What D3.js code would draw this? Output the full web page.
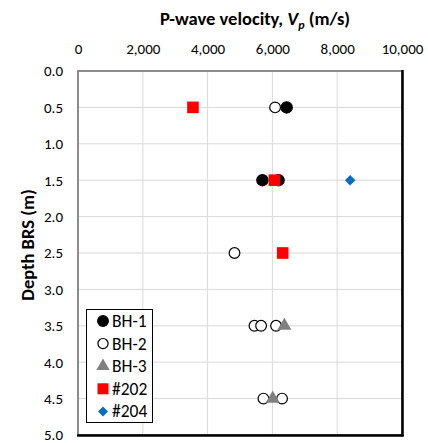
<!DOCTYPE html>
<html><head><meta charset="utf-8">
<script src="https://cdn.jsdelivr.net/npm/d3@7"></script>
<style>
body{margin:0;background:#fff;}
text{font-family:Carlito,Calibri,"Liberation Sans",Arial,sans-serif;}
</style></head>
<body><svg id="c" width="428" height="443"></svg>
<script>
const xTicks=[0,2000,4000,6000,8000,10000];
const yTicks=[0,0.5,1,1.5,2,2.5,3,3.5,4,4.5,5];
const seriesNames=["BH-1","BH-2","BH-3","#202","#204"];
const bh1Vp=[6440,5692,6190], bh1Depth=[0.5,1.5,1.5];
const bh2Vp=[6083,4830,5446,5651,6113,5723,6298], bh2Depth=[0.5,2.5,3.5,3.5,3.5,4.5,4.5];
const bh3Vp=[6369,6010], bh3Depth=[3.5,4.5];
const s202Vp=[3548,6062,6318], s202Depth=[0.5,1.5,2.5];
const s204Vp=[8400], s204Depth=[1.5];

const svg=d3.select("#c");
const L=78,R=402,T=71,B=435;
const x=d3.scaleLinear().domain([0,10000]).range([L,R]);
const y=d3.scaleLinear().domain([0,5]).range([T,B]);
const FF="Carlito,Calibri,'Liberation Sans',Arial,sans-serif";

// grid
svg.append("g").selectAll("line").data(xTicks.slice(1,-1)).join("line")
 .attr("x1",d=>x(d)).attr("x2",d=>x(d)).attr("y1",T).attr("y2",B)
 .attr("stroke","#d9d9d9").attr("stroke-width",1);
svg.append("g").selectAll("line").data(yTicks.slice(1,-1)).join("line")
 .attr("y1",d=>y(d)).attr("y2",d=>y(d)).attr("x1",L).attr("x2",R)
 .attr("stroke","#d9d9d9").attr("stroke-width",1);

// frame
svg.append("rect").attr("x",L).attr("y",T).attr("width",R-L).attr("height",B-T)
 .attr("fill","none").attr("stroke","#8c8c8c").attr("stroke-width",2);
svg.append("line").attr("x1",R+0.5).attr("x2",R+0.5).attr("y1",T-1).attr("y2",B+1.5).attr("stroke","#000").attr("stroke-width",2.5);
svg.append("line").attr("x1",L-1).attr("x2",R+1.5).attr("y1",B+0.5).attr("y2",B+0.5).attr("stroke","#000").attr("stroke-width",2.5);

// axes
const xa=d3.axisTop(x).tickValues(xTicks).tickFormat(d3.format(",")).tickSize(0).tickPadding(17);
const gx=svg.append("g").attr("transform",`translate(0,${T})`).call(xa);
gx.select(".domain").remove();
gx.selectAll("text").attr("font-size",15).attr("fill","#000").style("font-family",FF);
const ya=d3.axisLeft(y).tickValues(yTicks).tickFormat(d3.format(".1f")).tickSize(0).tickPadding(15);
const gy=svg.append("g").attr("transform",`translate(${L},0)`).call(ya);
gy.select(".domain").remove();
gy.selectAll("text").attr("font-size",15).attr("fill","#000").style("font-family",FF);

// titles
const t=svg.append("text").attr("x",255).attr("y",25).attr("text-anchor","middle")
 .attr("font-size",18.5).attr("font-weight","bold");
t.append("tspan").text("P-wave velocity, ");
t.append("tspan").attr("font-style","italic").text("V");
t.append("tspan").attr("font-style","italic").attr("font-size",12).attr("dy",4).text("p");
t.append("tspan").attr("dy",-4).text(" (m/s)");
svg.append("text").attr("transform","translate(34,245) rotate(-90)").attr("text-anchor","middle")
 .attr("font-size",18.5).attr("font-weight","bold").text("Depth BRS (m)");

// markers
const diamond={draw(ctx,size){const r=Math.sqrt(size/2);ctx.moveTo(0,-r);ctx.lineTo(r,0);ctx.lineTo(0,r);ctx.lineTo(-r,0);ctx.closePath();}};
const sym={
 "BH-1":{type:d3.symbolCircle,size:100,fill:"#000",stroke:"#000"},
 "BH-2":{type:d3.symbolCircle,size:90,fill:"#fff",stroke:"#000"},
 "BH-3":{type:d3.symbolTriangle,size:85,fill:"#808080",stroke:"none"},
 "#202":{type:d3.symbolSquare,size:135,fill:"#ff0000",stroke:"none"},
 "#204":{type:diamond,size:55,fill:"#0070c0",stroke:"none"}
};
const series=[
 {name:"BH-1",vp:bh1Vp,d:bh1Depth},
 {name:"BH-2",vp:bh2Vp,d:bh2Depth},
 {name:"BH-3",vp:bh3Vp,d:bh3Depth},
 {name:"#202",vp:s202Vp,d:s202Depth},
 {name:"#204",vp:s204Vp,d:s204Depth}
];
series.forEach(s=>{
 const st=sym[s.name];
 svg.append("g").selectAll("path").data(s.vp.map((v,i)=>[v,s.d[i]])).join("path")
  .attr("d",d3.symbol().type(st.type).size(st.size))
  .attr("transform",d=>`translate(${x(d[0])},${y(d[1])})`)
  .attr("fill",st.fill).attr("stroke",st.stroke).attr("stroke-width",1.2);
});

// legend
const lg=svg.append("g");
lg.append("rect").attr("x",86.5).attr("y",309.5).attr("width",66).attr("height",113)
 .attr("fill","#fff").attr("stroke","#000").attr("stroke-width",1);
seriesNames.forEach((n,i)=>{
 const cy=321+i*22.6, st=sym[n];
 lg.append("path").attr("d",d3.symbol().type(st.type).size(st.size*0.9))
  .attr("transform",`translate(103,${cy})`).attr("fill",st.fill).attr("stroke",st.stroke).attr("stroke-width",1.2);
 lg.append("text").attr("x",112).attr("y",cy+6).attr("font-size",17.5).text(n);
});
</script></body></html>
